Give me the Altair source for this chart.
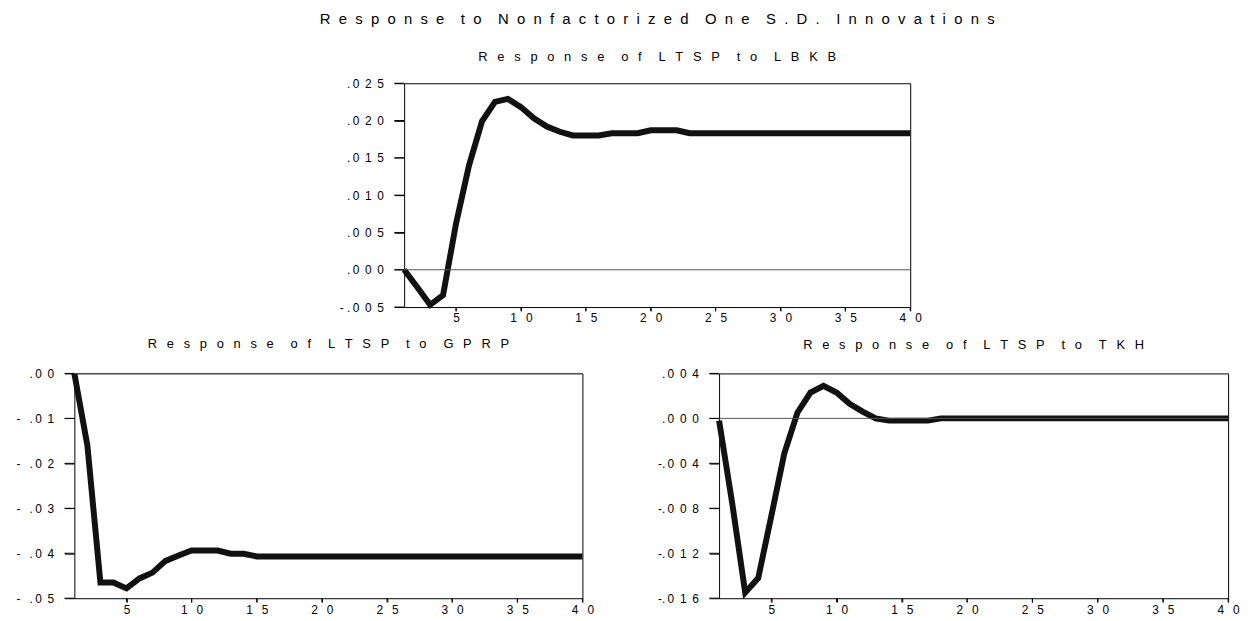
import json
import altair as alt
import pandas as pd

# ---------------- data ----------------
periods = list(range(1, 41))

resp_lbkb = [0.0, -0.0023, -0.0047, -0.0034, 0.0062, 0.0140, 0.0199, 0.0225, 0.0229, 0.0218,
             0.0203, 0.0192, 0.0185, 0.0180, 0.0180, 0.0180, 0.0183, 0.0183, 0.0183, 0.0187,
             0.0187, 0.0187, 0.0183, 0.0183, 0.0183, 0.0183, 0.0183, 0.0183, 0.0183, 0.0183,
             0.0183, 0.0183, 0.0183, 0.0183, 0.0183, 0.0183, 0.0183, 0.0183, 0.0183, 0.0183]

resp_gprp = [0.0, -0.0160, -0.0465, -0.0465, -0.0478, -0.0456, -0.0443, -0.0417, -0.0405, -0.0394,
             -0.0394, -0.0394, -0.0401, -0.0401, -0.0407, -0.0407, -0.0407, -0.0407, -0.0407, -0.0407,
             -0.0407, -0.0407, -0.0407, -0.0407, -0.0407, -0.0407, -0.0407, -0.0407, -0.0407, -0.0407,
             -0.0407, -0.0407, -0.0407, -0.0407, -0.0407, -0.0407, -0.0407, -0.0407, -0.0407, -0.0407]

resp_tkh = [-0.0002, -0.0075, -0.0155, -0.0142, -0.0087, -0.0031, 0.0005, 0.0023, 0.0029, 0.0023,
            0.0013, 0.0006, 0.0000, -0.0002, -0.0002, -0.0002, -0.0002, 0.0000, 0.0000, 0.0000,
            0.0000, 0.0000, 0.0000, 0.0000, 0.0000, 0.0000, 0.0000, 0.0000, 0.0000, 0.0000,
            0.0000, 0.0000, 0.0000, 0.0000, 0.0000, 0.0000, 0.0000, 0.0000, 0.0000, 0.0000]

x_ticks = [5, 10, 15, 20, 25, 30, 35, 40]
x_labels = ["5", "10", "15", "20", "25", "30", "35", "40"]

top_ticks = [-0.005, 0.0, 0.005, 0.010, 0.015, 0.020, 0.025]
top_labels = ["-.005", ".000", ".005", ".010", ".015", ".020", ".025"]

gprp_ticks = [-0.05, -0.04, -0.03, -0.02, -0.01, 0.0]
gprp_labels = ["-.05", "-.04", "-.03", "-.02", "-.01", ".00"]

tkh_ticks = [-0.016, -0.012, -0.008, -0.004, 0.0, 0.004]
tkh_labels = ["-.016", "-.012", "-.008", "-.004", ".000", ".004"]

main_title = "Response to Nonfactorized One S.D. Innovations"
title_lbkb = "Response of LTSP to LBKB"
title_gprp = "Response of LTSP to GPRP"
title_tkh = "Response of LTSP to TKH"

# ---------------- helpers ----------------
FONT = "Liberation Sans"
NB = "\u00a0"
THIN = "\u2009"


def spaced_text(text, gap, wgap):
    return wgap.join(gap.join(list(w)) for w in text.split(" "))


def spaced_num(s, gap, minus_gap=NB):
    out = ""
    for i, c in enumerate(s):
        out += c
        if i < len(s) - 1:
            if c == ".":
                out += THIN
            elif c == "-":
                out += minus_gap
            else:
                out += gap
    return out


def label_expr(values, labels, gap, minus_gap=NB):
    labs = json.dumps([spaced_num(l, gap, minus_gap) for l in labels], ensure_ascii=False)
    v0 = values[0]
    step = values[1] - values[0]
    return f"{labs}[round((datum.value - ({v0})) / {step})]"


def panel(values, yticks, ylabels, ydomain, width, height, title, minus_gap=NB):
    df = pd.DataFrame({"period": periods, "response": values})
    zero_df = pd.DataFrame({"response": [0.0]})
    ytick_df = pd.DataFrame({"response": yticks})
    xtick_df = pd.DataFrame({"period": x_ticks})
    yscale = alt.Scale(domain=ydomain, nice=False, zero=False)
    xscale = alt.Scale(domain=[1, 40], nice=False, zero=False)
    line = alt.Chart(df).mark_line(
        color="#111111", strokeWidth=6, strokeJoin="miter", strokeCap="butt"
    ).encode(
        x=alt.X(
            "period:Q",
            scale=xscale,
            axis=alt.Axis(
                values=x_ticks, tickCount=40,
                labelExpr=label_expr(x_ticks, x_labels, NB + NB + THIN),
                ticks=True, tickSize=4, tickColor="black", tickWidth=1,
                labelPadding=2, labelOverlap=False, labelFlush=False,
                title=None,
            ),
        ),
        y=alt.Y(
            "response:Q",
            scale=yscale,
            axis=alt.Axis(
                values=yticks, tickCount=40,
                labelExpr=label_expr(yticks, ylabels, NB + THIN, minus_gap),
                ticks=True, tickSize=10, tickColor="black", tickWidth=1,
                labelPadding=11, labelOverlap=False, labelFlush=False,
                title=None,
            ),
        ),
    )
    zero = alt.Chart(zero_df).mark_rule(color="#555555", strokeWidth=1).encode(
        y=alt.Y("response:Q", scale=yscale, title=None)
    )
    yticks_mark = alt.Chart(ytick_df).mark_rule(color="black", strokeWidth=1).encode(
        y=alt.Y("response:Q", scale=yscale, title=None),
        x=alt.value(-10), x2=alt.value(0),
    )
    xticks_mark = alt.Chart(xtick_df).mark_rule(color="black", strokeWidth=1).encode(
        x=alt.X("period:Q", scale=xscale, title=None),
        y=alt.value(height), y2=alt.value(height + 4),
    )
    return alt.layer(line, zero, yticks_mark, xticks_mark).properties(
        width=width, height=height, title=title
    )


sub_gap = NB + NB + THIN
sub_wgap = sub_gap + NB + NB

top_chart = panel(
    resp_lbkb, top_ticks, top_labels, [-0.005, 0.025], 511, 226,
    alt.TitleParams(
        text=spaced_text(main_title, NB + NB, NB * 4),
        subtitle=spaced_text(title_lbkb, sub_gap, sub_wgap),
        font=FONT, fontSize=15, fontWeight="normal", color="black",
        subtitleFont=FONT, subtitleFontSize=13, subtitleColor="black",
        anchor="middle", frame="group", offset=13, subtitlePadding=25,
    ),
)

gprp_chart = panel(
    resp_gprp, gprp_ticks, gprp_labels, [-0.05, 0.0], 513, 227,
    alt.TitleParams(
        text=spaced_text(title_gprp, sub_gap, sub_wgap), font=FONT, fontSize=13,
        fontWeight="normal", color="black", anchor="middle", frame="group", offset=11,
    ),
    minus_gap=NB + NB + THIN,
)

tkh_chart = panel(
    resp_tkh, tkh_ticks, tkh_labels, [-0.016, 0.004], 514, 227,
    alt.TitleParams(
        text=spaced_text(title_tkh, sub_gap, sub_wgap), font=FONT, fontSize=13,
        fontWeight="normal", color="black", anchor="middle", frame="group", offset=16,
    ),
    minus_gap="",
)

spacer = alt.Chart(pd.DataFrame({"s": [0]})).mark_point(opacity=0).encode(
    x=alt.X("s:Q", axis=None), y=alt.Y("s:Q", axis=None)
).properties(width=1, height=226, view=alt.ViewBackground(stroke="transparent"))

top_row = alt.hconcat(spacer, top_chart, spacing=332, bounds="flush")
bottom_row = alt.hconcat(gprp_chart, tkh_chart, spacing=138, bounds="flush")

chart = alt.vconcat(top_row, bottom_row, spacing=12).properties(
    padding={"left": 7, "top": 0, "right": 0, "bottom": 0},
    background="white",
).configure_view(
    stroke="black", strokeWidth=1
).configure_axis(
    grid=False, domain=False, labelFont=FONT, labelFontSize=12, labelColor="black",
    tickColor="black", tickWidth=1, labelFlush=False, labelOverlap=False,
)

chart.save("out.html", embed_options={"renderer": "svg", "actions": False})
